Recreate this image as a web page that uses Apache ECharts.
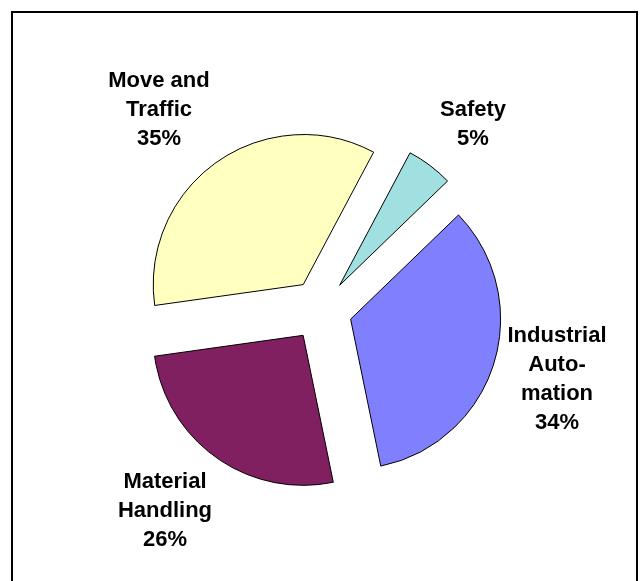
<!DOCTYPE html>
<html>
<head>
<meta charset="utf-8">
<script src="https://cdn.jsdelivr.net/npm/echarts@6/dist/echarts.min.js"></script>
<style>
  html, body { margin: 0; padding: 0; background: #fff; }
  #main { width: 643px; height: 581px; }
</style>
</head>
<body>
<div id="main"></div>
<script>
const categories = ['Safety', 'Industrial Automation', 'Material Handling', 'Move and Traffic']
const values = [5, 34, 26, 35]
// wrapped label text, same order as categories
const labelNames = ['Safety', 'Industrial\nAuto-\nmation', 'Material\nHandling', 'Move and\nTraffic']
const colors = ['#a0e0e0', '#8080ff', '#802060', '#ffffc0']
// centre of each label block, same order
const labelPos = [[473, 124], [557, 379], [165, 511], [159, 110]]

let myChart = echarts.init(document.getElementById('main'))

const total = values.reduce((a, b) => a + b, 0)
// pie labels don't honour fixed x/y when slices are exploded, so draw them as graphic text
const labels = categories.map((name, i) => ({
  type: 'text',
  silent: true,
  style: {
    x: labelPos[i][0],
    y: labelPos[i][1],
    text: labelNames[i] + '\n' + Math.round(values[i] / total * 100) + '%',
    fill: '#000',
    font: 'bold 22px "Liberation Sans", Arial, sans-serif',
    lineHeight: 29,
    align: 'center',
    verticalAlign: 'middle'
  }
}))

myChart.setOption({
  animation: false,
  backgroundColor: '#fff',
  graphic: [
    {
      type: 'rect',
      shape: { x: 12, y: 12, width: 625, height: 620 },
      style: { fill: 'none', stroke: '#000', lineWidth: 2 },
      silent: true
    },
    ...labels
  ],
  series: [
    {
      type: 'pie',
      center: [321, 310],
      radius: 150,
      startAngle: 62,
      clockwise: true,
      selectedMode: 'multiple',
      selectedOffset: 31,
      emphasis: { disabled: true },
      itemStyle: { borderColor: '#000', borderWidth: 1 },
      label: { show: false },
      labelLine: { show: false },
      data: categories.map((name, i) => ({
        name: name,
        value: values[i],
        selected: true,
        itemStyle: { color: colors[i] }
      }))
    }
  ]
})
</script>
</body>
</html>
